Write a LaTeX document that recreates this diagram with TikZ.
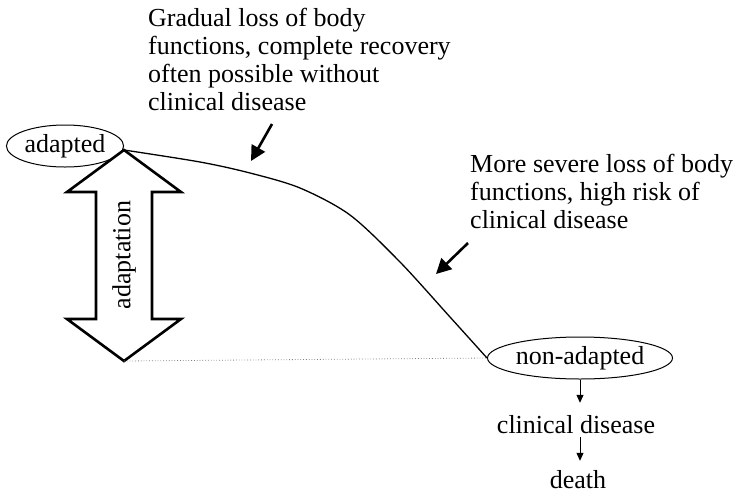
\documentclass[tikz,border=0pt]{standalone}
\usepackage{fontspec}
\setmainfont{Liberation Serif}
\usetikzlibrary{arrows.meta,shapes.geometric}

\tikzset{
  state/.style={draw, ellipse, line width=1pt, inner sep=1pt, minimum height=42pt},
  plain/.style={inner sep=0pt},
  pointer/.style={line width=2.6pt, -{Triangle[length=15pt,width=15pt]}},
  step arrow/.style={line width=1pt, -{Triangle[length=8pt,width=7pt]}}
}

\begin{document}
\begin{tikzpicture}[x=1pt, y=-1pt, font=\fontsize{26}{28}\selectfont]
  %%%%% START %%%%%
  \useasboundingbox (0,0) rectangle (738,493);

  % states
  \node[state, minimum width=114pt] (adapted) at (65,146) {adapted};
  \node[state, minimum width=185pt] (nonadapted) at (580,358) {non-adapted};
  \node[plain, anchor=base, text height=30pt, text depth=4pt] (clinical) at (576,433) {clinical disease};
  \node[plain, anchor=base, text height=27pt] (death) at (578,488) {death};

  % explanations
  \node[plain, anchor=north west, align=left] (mild) at (148,8)
    {Gradual loss of body\\functions, complete recovery\\often possible without\\clinical disease};
  \node[plain, anchor=north west, align=left] (severe) at (470,154)
    {More severe loss of body\\functions, high risk of\\clinical disease};

  % adaptation range
  \coordinate (top) at (124,150);
  \coordinate (bottom) at (124,361);
  \draw[line width=2.6pt, line join=miter] (top) -- (181,192) -- (152,192) -- (152,319)
    -- (181,319) -- (bottom) -- (67,319) -- (96,319) -- (96,192) -- (67,192) -- cycle;
  \node[rotate=90] (range) at (124,255) {adaptation};

  \draw[gray, dotted, line width=0.8pt] (bottom) -- (nonadapted.west);

  % decline curve
  \draw[line width=1.3pt] plot[smooth] coordinates
    {(top) (200,162) (250,173) (300,188) (350,215) (400,262) (450,317) (nonadapted.west)};

  % pointers
  \coordinate (p1) at (272,124);
  \coordinate (q1) at (251,161);
  \coordinate (p2) at (468,243);
  \coordinate (q2) at (436,274);
  \draw[pointer] (p1) -- (q1);
  \draw[pointer] (p2) -- (q2);

  % outcome chain
  \draw[step arrow] (nonadapted.south) -- (nonadapted.south |- clinical.north);
  \draw[step arrow] (nonadapted.south |- clinical.south) -- (nonadapted.south |- death.north);
  %%%%% END %%%%%
\end{tikzpicture}
\end{document}
